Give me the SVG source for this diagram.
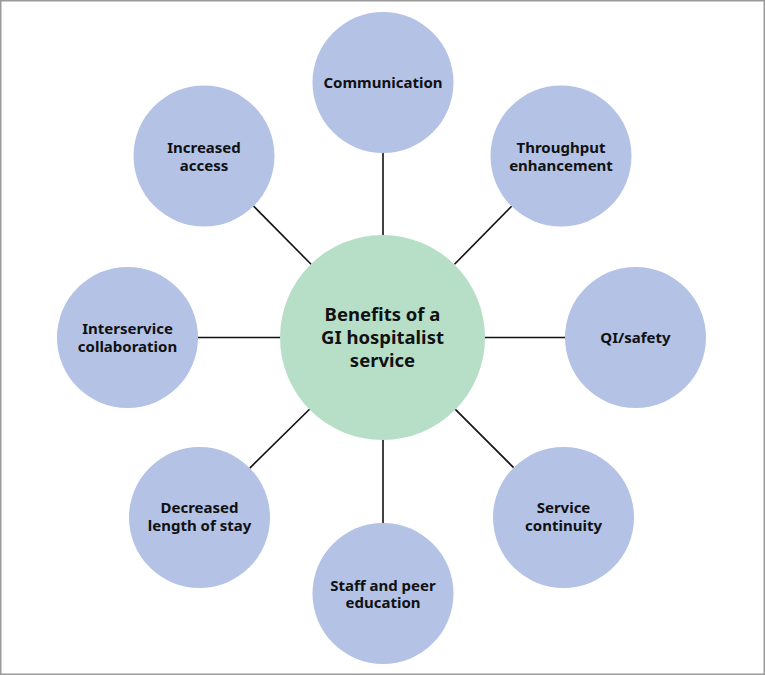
<svg xmlns="http://www.w3.org/2000/svg" width="765" height="675" viewBox="0 0 765 675">
<style>
.frame{fill:#ffffff;stroke:#9a9a9a;stroke-width:1.5}
.outer{fill:#b3c2e5}
.hub{fill:#b7dfc7}
.link{stroke:#111111;stroke-width:1.6;fill:none}
.t{font-family:"Noto Sans","Open Sans","DejaVu Sans",sans-serif;font-weight:bold;font-size:15px;fill:#111111;text-anchor:middle}
.th{font-family:"Noto Sans","Open Sans","DejaVu Sans",sans-serif;font-weight:bold;font-size:18.5px;fill:#111111;text-anchor:middle}
</style>
<rect class="frame" x="0.75" y="0.75" width="763.5" height="673.5"/>
<g id="connectors">
<line class="link" x1="383" y1="152.5" x2="383" y2="235"/>
<line class="link" x1="253.6" y1="206.1" x2="311.3" y2="264.5"/>
<line class="link" x1="511.6" y1="206.3" x2="454.5" y2="264.3"/>
<line class="link" x1="198" y1="337.5" x2="280" y2="337.5"/>
<line class="link" x1="485" y1="337.5" x2="565" y2="337.5"/>
<line class="link" x1="249.8" y1="468.1" x2="310.3" y2="408.5"/>
<line class="link" x1="513.6" y1="467.6" x2="455.1" y2="409.1"/>
<line class="link" x1="383" y1="440" x2="383" y2="523"/>
</g>
<g id="hub">
<circle class="hub" cx="382.5" cy="337.5" r="102.5"/>
<text class="th" x="382.5" y="320.7">Benefits of a</text>
<text class="th" x="382.5" y="344">GI hospitalist</text>
<text class="th" x="382.5" y="366.7">service</text>
</g>
<g id="communication">
<circle class="outer" cx="383" cy="82.5" r="70.5"/>
<text class="t" x="383" y="88">Communication</text>
</g>
<g id="throughput">
<circle class="outer" cx="561" cy="156" r="70.5"/>
<text class="t" x="561" y="153">Throughput</text>
<text class="t" x="561" y="171">enhancement</text>
</g>
<g id="qi-safety">
<circle class="outer" cx="635.5" cy="337.5" r="70.5"/>
<text class="t" x="635.5" y="343">QI/safety</text>
</g>
<g id="service-continuity">
<circle class="outer" cx="563.5" cy="517.5" r="70.5"/>
<text class="t" x="563.5" y="513">Service</text>
<text class="t" x="563.5" y="531">continuity</text>
</g>
<g id="staff-education">
<circle class="outer" cx="383" cy="593.5" r="70.5"/>
<text class="t" x="383" y="591">Staff and peer</text>
<text class="t" x="383" y="608">education</text>
</g>
<g id="decreased-los">
<circle class="outer" cx="199.5" cy="517.5" r="70.5"/>
<text class="t" x="199.5" y="513">Decreased</text>
<text class="t" x="199.5" y="531">length of stay</text>
</g>
<g id="interservice">
<circle class="outer" cx="127.5" cy="337.5" r="70.5"/>
<text class="t" x="127.5" y="334">Interservice</text>
<text class="t" x="127.5" y="352">collaboration</text>
</g>
<g id="increased-access">
<circle class="outer" cx="204" cy="156" r="70.5"/>
<text class="t" x="204" y="153">Increased</text>
<text class="t" x="204" y="171">access</text>
</g>
</svg>
